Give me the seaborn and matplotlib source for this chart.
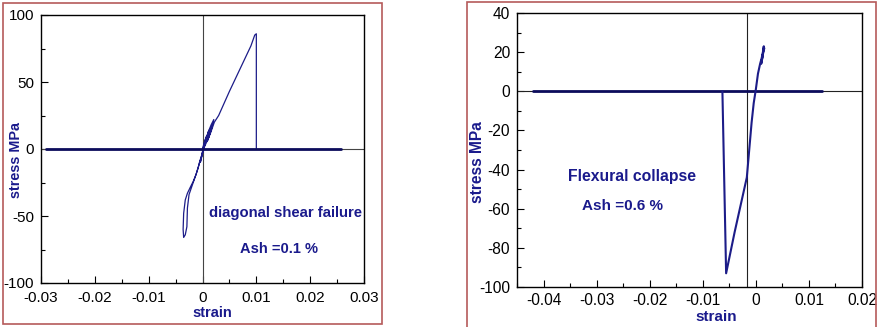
import matplotlib
matplotlib.use("Agg")
import matplotlib.pyplot as plt
import matplotlib.ticker as ticker
from matplotlib.patches import Rectangle
import numpy as np
import pandas as pd
import seaborn as sns

sns.set_theme(style="white")
plt.rcParams['font.family'] = ['Liberation Sans', 'DejaVu Sans']
plt.rcParams['axes.unicode_minus'] = False

# ---- data ----
# left: diagonal shear failure, Ash = 0.1 %
left_strain = [0, 0.0004, 0.0008, 0.0003, -0.0002, -0.0004, 0.0001, 0.0009, 0.0012, 0.0005,
               -0.0001, -0.0005, -0.0008, -0.0012, -0.0017, -0.0022, -0.0028, -0.0032,
               -0.0035, -0.0036, -0.0035, -0.0032, -0.0029, -0.0028, -0.0025, -0.0019,
               -0.0012, -0.0006, -0.0002, 0.0002, 0.0007, 0.0013, 0.0018, 0.0011, 0.0004,
               0.0010, 0.0016, 0.0021, 0.0016, 0.0009, 0.0015, 0.0022, 0.0030, 0.0050,
               0.0070, 0.0090, 0.0097, 0.0100, 0.0100]
left_stress = [0, 6, 10, 4, -6, -10, -2, 10, 14, 6,
               -4, -9, -14, -19, -24, -28, -33, -38,
               -48, -60, -66, -64, -58, -44, -34, -27,
               -19, -11, -6, 0, 8, 14, 18, 8, 2,
               12, 18, 22, 14, 6, 12, 20, 25, 43,
               60, 77, 85, 86, 0]
left_flat_strain = [-0.0291, 0.0258]
left_flat_stress = [0, 0]

# right: flexural collapse, Ash = 0.6 %
right_strain = [-0.0063, -0.0056, -0.0040, -0.0017, -0.0008, -0.0004, 0.0000, 0.0004,
                0.0008, 0.0011, 0.0014, 0.0015, 0.0013, 0.0010, 0.0014, 0.0016]
right_stress = [0, -93, -72, -44, -16, -6, 1, 9, 14, 17, 21, 23, 18, 14, 20, 22]
right_flat_strain = [-0.042, 0.0125]
right_flat_stress = [0, 0]

left_xticks = [-0.03, -0.02, -0.01, 0, 0.01, 0.02, 0.03]
left_xlabels = ["-0.03", "-0.02", "-0.01", "0", "0.01", "0.02", "0.03"]
left_yticks = [-100, -50, 0, 50, 100]
right_xticks = [-0.04, -0.03, -0.02, -0.01, 0, 0.01, 0.02]
right_xlabels = ["-0.04", "-0.03", "-0.02", "-0.01", "0", "0.01", "0.02"]
right_yticks = [-100, -80, -60, -40, -20, 0, 20, 40]

navy = '#1a1a8c'
line_c = '#1c1c88'
flat_c = '#0c0c5c'

W, H = 877, 327
fig = plt.figure(figsize=(W / 100, H / 100), dpi=100)

# red frames around the two panels
fig.patches.append(Rectangle((2.5 / W, 1 - 323.5 / H), (382 - 2.5) / W, (321 / H),
                             transform=fig.transFigure, fill=False, edgecolor='#b55a5a', lw=1.2))
fig.patches.append(Rectangle((467 / W, -0.05), (875.5 - 467) / W, 1 - 1.5 / H + 0.05,
                             transform=fig.transFigure, fill=False, edgecolor='#b55a5a', lw=1.2))

ax1 = fig.add_axes([41 / W, 1 - 283 / H, 323 / W, 268 / H])
ax2 = fig.add_axes([517 / W, 1 - 287 / H, 345 / W, 274 / H])

# left panel
ax1.axhline(0, color='#444444', lw=0.8, zorder=1)
ax1.axvline(0, color='#444444', lw=0.8, zorder=1)
sns.lineplot(x=left_strain, y=left_stress, ax=ax1, sort=False, estimator=None,
             color=line_c, lw=0.9, zorder=3)
sns.lineplot(x=left_flat_strain, y=left_flat_stress, ax=ax1, sort=False, estimator=None,
             color=flat_c, lw=2.0, zorder=4)
ax1.set_xlim(-0.03, 0.03)
ax1.set_ylim(-100, 100)
ax1.set_xticks(left_xticks, left_xlabels)
ax1.set_yticks(left_yticks)
ax1.xaxis.set_minor_locator(ticker.MultipleLocator(0.005))
ax1.yaxis.set_minor_locator(ticker.MultipleLocator(25))
ax1.text(0.01534, -47.8, "diagonal shear failure", color=navy, fontsize=10.7,
         fontweight='bold', ha='center', va='center')
ax1.text(0.01414, -74.6, "Ash =0.1 %", color=navy, fontsize=10.5,
         fontweight='bold', ha='center', va='center')

# right panel
ax2.axhline(0, color='#222222', lw=0.8, zorder=1)
ax2.axvline(-0.00175, color='#222222', lw=0.8, zorder=1)
sns.lineplot(x=right_flat_strain, y=right_flat_stress, ax=ax2, sort=False, estimator=None,
             color=flat_c, lw=2.0, zorder=3)
sns.lineplot(x=right_strain, y=right_stress, ax=ax2, sort=False, estimator=None,
             color=line_c, lw=1.5, zorder=4)
ax2.set_xlim(-0.045, 0.02)
ax2.set_ylim(-100, 40)
ax2.set_xticks(right_xticks, right_xlabels)
ax2.set_yticks(right_yticks)
ax2.xaxis.set_minor_locator(ticker.MultipleLocator(0.005))
ax2.yaxis.set_minor_locator(ticker.MultipleLocator(10))
ax2.text(-0.0233, -43.3, "Flexural collapse", color=navy, fontsize=11.3,
         fontweight='bold', ha='center', va='center')
ax2.text(-0.0251, -58.6, "Ash =0.6 %", color=navy, fontsize=11,
         fontweight='bold', ha='center', va='center')

for ax, fs, xpad in ((ax1, 11, 6), (ax2, 11.2, 4.5)):
    ax.set_facecolor('white')
    for s in ax.spines.values():
        s.set_color('black')
        s.set_linewidth(1.0)
    ax.tick_params(which='both', direction='in', top=False, right=False,
                   left=True, bottom=True, colors='black', labelsize=fs)
    ax.tick_params(which='major', length=5, width=0.8)
    ax.tick_params(which='minor', length=3, width=0.8)
    ax.tick_params(axis='x', which='major', pad=xpad)
    ax.tick_params(axis='y', which='major', pad=5)
    ax.set_xlabel("")
    ax.set_ylabel("")
    ax.grid(False)

# axis labels placed as in the original
fig.text(16 / W, 1 - 160 / H, "stress MPa", color=navy, fontsize=10.4, fontweight='bold',
         rotation=90, ha='center', va='center')
fig.text(212 / W, 1 - 313 / H, "strain", color=navy, fontsize=10.5, fontweight='bold',
         ha='center', va='center')
fig.text(477 / W, 1 - 162 / H, "stress MPa", color=navy, fontsize=11.2, fontweight='bold',
         rotation=90, ha='center', va='center')
fig.text(716 / W, 1 - 317 / H, "strain", color=navy, fontsize=11, fontweight='bold',
         ha='center', va='center')

fig.savefig("out.png", dpi=100)
